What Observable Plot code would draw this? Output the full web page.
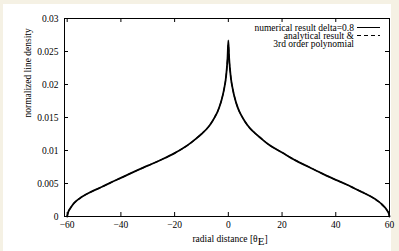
<!DOCTYPE html>
<html><head><meta charset="utf-8">
<script src="https://cdn.jsdelivr.net/npm/d3@7"></script>
<script src="https://cdn.jsdelivr.net/npm/@observablehq/plot@0.6"></script>
<style>
html,body{margin:0;padding:0;background:#f5f1e4;width:399px;height:251px;overflow:hidden}
#panel{position:absolute;left:3px;top:4px;width:388px;height:247px;background:#fff}
#panel svg{position:absolute;left:0;top:0;overflow:visible}
</style></head><body><div id="panel"></div><script>
const xTicks = [-60, -40, -20, 0, 20, 40, 60];
const yTicks = [0, 0.005, 0.01, 0.015, 0.02, 0.025, 0.03];
const radialDistance = [-60, -59.7, -59.3, -59, -58, -57, -56, -55, -54, -52, -50, -47, -44, -40, -35, -30, -25, -20, -15, -12, -10, -8, -7, -6, -5, -4, -3, -2.5, -2, -1.5, -1, -0.6, -0.3, 0, 0.3, 0.6, 1, 1.5, 2, 2.5, 3, 4, 5, 6, 7, 8, 10, 12, 15, 20, 25, 30, 35, 40, 44, 47, 50, 52, 54, 55, 56, 57, 58, 59, 59.3, 59.7, 60];
const numericalDensity = [0, 0.00055, 0.00095, 0.00115, 0.00175, 0.0022, 0.00255, 0.00285, 0.0031, 0.00355, 0.00395, 0.0045, 0.0051, 0.00585, 0.0068, 0.0077, 0.0086, 0.0096, 0.01085, 0.0118, 0.0125, 0.0133, 0.0138, 0.0144, 0.0151, 0.0159, 0.017, 0.0177, 0.0185, 0.0195, 0.0207, 0.0223, 0.024, 0.0267, 0.024, 0.0224, 0.0208, 0.0196, 0.0186, 0.0178, 0.0171, 0.016, 0.0152, 0.0145, 0.0139, 0.0134, 0.0126, 0.0119, 0.0109, 0.0097, 0.0085, 0.0075, 0.0065, 0.00555, 0.00485, 0.00425, 0.00365, 0.00325, 0.0028, 0.00255, 0.00225, 0.0019, 0.0015, 0.001, 0.0008, 0.0005, 0];
const analyticalDensity = [0, 0.00055, 0.00095, 0.00115, 0.00175, 0.0022, 0.00255, 0.00285, 0.0031, 0.00355, 0.00395, 0.0045, 0.0051, 0.00585, 0.0068, 0.0077, 0.0086, 0.0096, 0.01085, 0.0118, 0.0125, 0.0133, 0.0138, 0.0144, 0.0151, 0.0159, 0.017, 0.0177, 0.0185, 0.0195, 0.0207, 0.0223, 0.0238, 0.026, 0.0238, 0.0224, 0.0208, 0.0196, 0.0186, 0.0178, 0.0171, 0.016, 0.0152, 0.0145, 0.0139, 0.0134, 0.0126, 0.0119, 0.0109, 0.0097, 0.0085, 0.0075, 0.0065, 0.00555, 0.00485, 0.00425, 0.00365, 0.00325, 0.0028, 0.00255, 0.00225, 0.0019, 0.0015, 0.001, 0.0008, 0.0005, 0];
const seriesLabels = ["numerical result delta=0.8", "analytical result &", "3rd order polynomial"];
const xLabel = "radial distance [θE]";
const yLabel = "normalized line density";

const W = 388, H = 247, mL = 61, mR = 2, mT = 14, mB = 35;
const pw = W - mL - mR, ph = H - mT - mB, tl = 4;
const font = '"Liberation Serif", "DejaVu Serif", serif';
const n = radialDistance.length;

const plot = Plot.plot({
  width: W, height: H,
  marginLeft: mL, marginRight: mR, marginTop: mT, marginBottom: mB,
  style: {fontFamily: font, fontSize: "9.5px", background: "transparent", color: "#000", overflow: "visible"},
  x: {domain: [-61, 60]},
  y: {domain: [0, 0.03]},
  marks: [
    Plot.line({length: n}, {x: radialDistance, y: numericalDensity, stroke: "#000", strokeWidth: 1.8, curve: "monotone-x"}),
    Plot.line({length: n}, {x: radialDistance, y: analyticalDensity, stroke: "#000", strokeWidth: 1.2, strokeDasharray: "4,3", curve: "monotone-x"}),
    Plot.ruleX(xTicks, {x: d => d, insetTop: ph - tl, stroke: "#000"}),
    Plot.ruleX(xTicks, {x: d => d, insetBottom: ph - tl, stroke: "#000"}),
    Plot.ruleY(yTicks, {y: d => d, insetRight: pw - tl, stroke: "#000"}),
    Plot.ruleY(yTicks, {y: d => d, insetLeft: pw - tl, stroke: "#000"}),
    Plot.frame({stroke: "#000", strokeWidth: 1}),
    Plot.axisX({ticks: xTicks, tickSize: 0, tickPadding: 5, tickFormat: d3.format("d"), label: null}),
    Plot.axisY({ticks: yTicks, tickSize: 0, tickPadding: 6, tickFormat: d => String(d), label: null}),
    Plot.text([xLabel], {frameAnchor: "bottom", dy: 22, dx: 3, text: d => d, lineAnchor: "middle", fill: "#000"}),
    Plot.text([yLabel], {frameAnchor: "left", rotate: -90, dx: -37, text: d => d, lineAnchor: "middle", fill: "#000"})
  ]
});
document.getElementById("panel").appendChild(plot);

// subscript E in x label
d3.select(plot).selectAll("text").filter(function() { return this.textContent === xLabel; }).each(function() {
  const t = d3.select(this);
  t.text(null);
  t.append("tspan").text("radial distance [θ");
  t.append("tspan").attr("dy", 3).attr("font-size", "11px").text("E");
  t.append("tspan").attr("dy", -3).text("]");
});

// legend (added overlay, top right inside frame)
const leg = d3.select("#panel").append("svg").attr("width", W).attr("height", 60)
  .style("font-family", font).style("font-size", "9.5px");
const rows = [
  {label: seriesLabels[0], y: 23.5, dash: null},
  {label: seriesLabels[1], y: 31.5, dash: "4,3"},
  {label: seriesLabels[2], y: 39.5, dash: undefined}
];
rows.forEach(r => {
  leg.append("text").attr("x", 351).attr("y", r.y).attr("dy", "0.32em").attr("text-anchor", "end").attr("fill", "#000").text(r.label);
  if (r.dash !== undefined) {
    leg.append("line").attr("x1", 354).attr("x2", 377).attr("y1", r.y).attr("y2", r.y)
      .attr("stroke", "#000").attr("stroke-width", 1).attr("stroke-dasharray", r.dash);
  }
});
</script></body></html>
